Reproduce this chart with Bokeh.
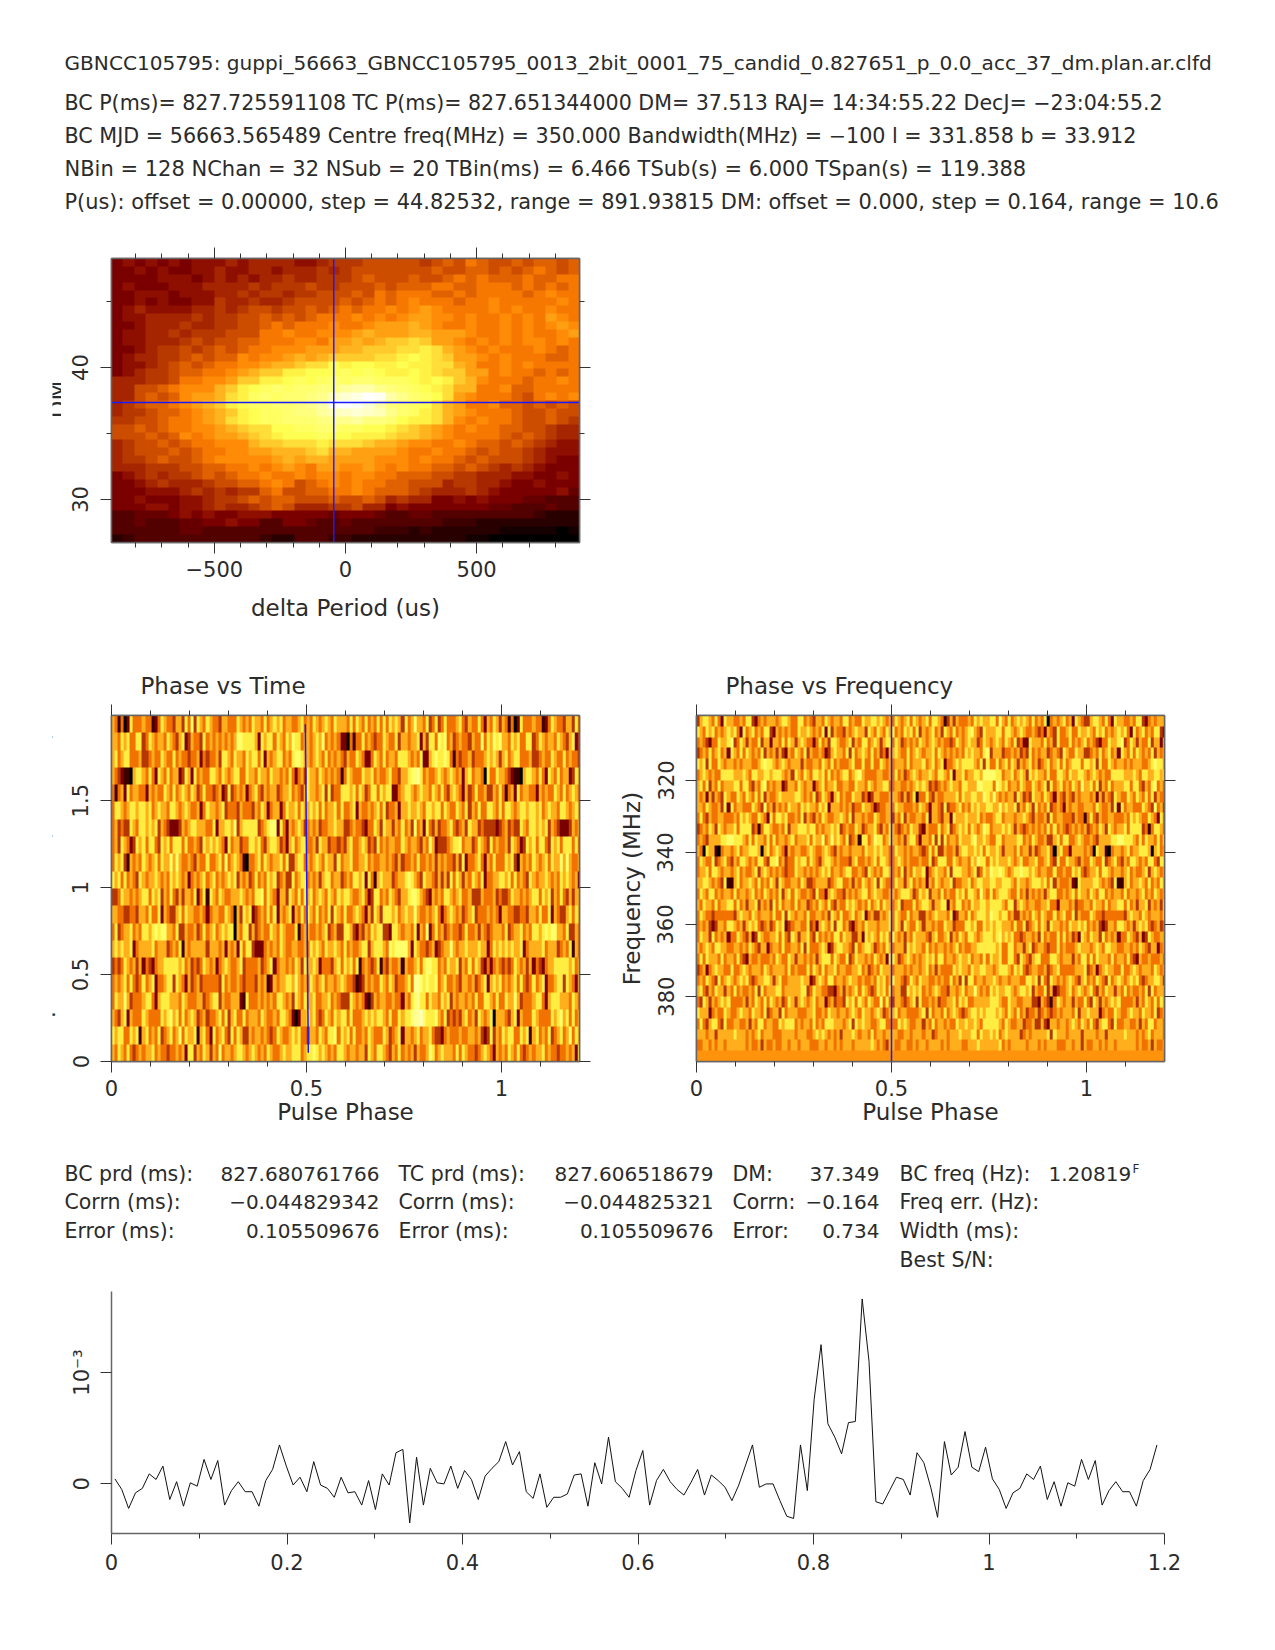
import numpy as np
from bokeh.embed import file_html
from bokeh.layouts import column, row
from bokeh.models import FixedTicker, Label, LinearAxis, LinearColorMapper, Range1d, Spacer, Title
from bokeh.plotting import figure
from bokeh.resources import INLINE

# header and stats text
HEADER_LINES = [
    "GBNCC105795: guppi_56663_GBNCC105795_0013_2bit_0001_75_candid_0.827651_p_0.0_acc_37_dm.plan.ar.clfd",
    "BC P(ms)= 827.725591108 TC P(ms)= 827.651344000 DM= 37.513 RAJ= 14:34:55.22 DecJ= \u221223:04:55.2",
    "BC MJD = 56663.565489 Centre freq(MHz) = 350.000 Bandwidth(MHz) = \u2212100 l = 331.858 b = 33.912",
    "NBin = 128 NChan = 32 NSub = 20 TBin(ms) = 6.466 TSub(s) = 6.000 TSpan(s) = 119.388",
    "P(us): offset = 0.00000, step = 44.82532, range = 891.93815 DM: offset = 0.000, step = 0.164, range = 10.6",
]
STATS_NAMES_1 = ["BC prd (ms):", "Corrn (ms):", "Error (ms):"]
STATS_VALUES_1 = ["827.680761766", "\u22120.044829342", "0.105509676"]
STATS_NAMES_2 = ["TC prd (ms):", "Corrn (ms):", "Error (ms):"]
STATS_VALUES_2 = ["827.606518679", "\u22120.044825321", "0.105509676"]
STATS_NAMES_3 = ["DM:", "Corrn:", "Error:"]
STATS_VALUES_3 = ["37.349", "\u22120.164", "0.734"]
STATS_NAMES_4 = ["BC freq (Hz):", "Freq err. (Hz):", "Width (ms):", "Best S/N:"]
BC_FREQ = "1.20819"

# pulse profile, one value per phase bin, in units of the 10^-3 tick
PROFILE = [
    0.045, -0.05, -0.22, -0.08, -0.04, 0.09, 0.04, 0.16, -0.14, 0.02, -0.20, 0.01, -0.02, 0.22, 0.04, 0.21,
    -0.19, -0.06, 0.02, -0.07, -0.07, -0.20, 0.03, 0.13, 0.35, 0.16, -0.01, 0.06, -0.07, 0.20, -0.01, -0.04,
    -0.12, 0.06, -0.08, -0.07, -0.19, 0.03, -0.23, 0.09, -0.01, 0.28, 0.31, -0.35, 0.24, -0.19, 0.14, 0.01,
    0.00, 0.16, -0.04, 0.12, 0.04, -0.14, 0.07, 0.14, 0.20, 0.38, 0.17, 0.29, -0.07, -0.13, 0.09, -0.21,
    -0.12, -0.12, -0.09, 0.08, 0.09, -0.20, 0.19, 0.00, 0.42, 0.02, -0.04, -0.12, 0.12, 0.30, -0.19, 0.03,
    0.13, 0.02, -0.05, -0.10, 0.01, 0.13, -0.10, 0.08, 0.03, -0.03, -0.15, -0.01, 0.17, 0.35, -0.03, 0.00,
    0.00, -0.15, -0.29, -0.31, 0.35, -0.06, 0.76, 1.25, 0.54, 0.42, 0.27, 0.55, 0.56, 1.66, 1.10, -0.16,
    -0.18, -0.06, 0.06, 0.04, -0.10, 0.28, 0.19, -0.03, -0.30, 0.38, 0.08, 0.15, 0.47, 0.15, 0.11, 0.33,
    0.045, -0.05, -0.22, -0.08, -0.04, 0.09, 0.04, 0.16, -0.14, 0.02, -0.20, 0.01, -0.02, 0.22, 0.04, 0.21,
    -0.19, -0.06, 0.02, -0.07, -0.07, -0.20, 0.03, 0.13, 0.35,
]
NBIN = 128

# phase vs time cells, colour level 0-9, first 128 bins, top subint first
TIME_ROWS = [
    "54140264 44544124 65443553 64736546 54435544 46545465 54645656 45544564 54654565 46555464 65464546 46465653 64575546 34634644 45643544 64254653",
    "55465644 66346545 54654356 23544364 54545454 57766665 26566465 46576645 54565745 45422041 44645434 46544635 54556253 66476745 34544354 47465767",
    "56456644 45334544 65446454 43445243 44536654 65546566 46254566 45467765 54565464 54543544 65422465 46455466 65454622 56766764 14344534 44565653",
    "54321105 66546426 54645523 65264544 66546545 66446554 65546554 54642453 65546545 45414654 44655645 44564435 56778645 44565456 54525645 54064465",
    "41452645 54425454 46546456 54653464 43452363 45452456 43545534 55645435 65545636 34466656 46534664 65662245 66545655 46546435 65425346 44533546",
    "46654566 56656456 55466545 65445246 55456344 43544435 46524552 46556465 56564645 56464456 25445456 46344525 56556546 65664654 46546354 64466546",
    "45343365 46656563 54322235 45665554 46255665 73566666 34567726 42545653 45453445 56553345 44324465 36553546 45374526 43534456 43453655 34333323",
    "45365423 65646643 65646664 64454365 65654264 55344665 64356653 42564566 44536553 44343564 45653436 45455446 54554354 75233345 66745534 65436454",
    "46563154 54654564 65575754 45435446 44564745 65410445 64654556 46335664 54565465 53645564 45564544 55454353 44546445 45354544 35362445 64254644",
    "65646454 36545565 45465654 52454564 56454565 63545346 45465634 53364566 45453566 45534546 65626415 65553455 67654365 54353536 46535465 46244556",
    "33465545 45664656 35464353 55462461 65465445 55654546 67465425 53654646 56456546 54656654 45642366 45465435 56776543 25454665 45644533 35444534",
    "55443344 35546446 25433564 65544542 45544654 05365623 45464625 45625464 65464546 36546445 65425365 36665645 65575445 45642456 54534563 44454542",
    "46345564 54665676 77554633 54453464 56456566 05466353 45446546 54446145 54454563 45336653 24354656 63326654 55462547 24645345 44346445 35434555",
    "56565562 45555645 55345461 54555553 55545254 52646632 22454546 54455445 46565465 56546454 45663566 65476777 75265443 45234557 54556555 65524656",
    "34346545 35243245 56666656 45343465 45245654 45634444 53456245 54546536 55652444 35646564 61454346 14354451 54456467 76645465 56354646 53242454",
    "45456464 34645624 45663654 25345344 44436454 45434443 54512545 56657545 46545645 54565443 12354544 65465344 56488767 66745644 54355453 45625656",
    "46557534 44566425 66655546 54445534 56635445 55216444 54545466 54536546 55644556 45433365 45421354 55445442 54678664 65546563 54554546 44665464",
    "54356254 44654444 65675646 45653453 44564635 64464555 46544546 65420255 65643465 46566464 44565656 65464465 66788976 66754634 34356453 65456055",
    "65664465 61564546 34564574 65561564 26456436 46533545 54543465 44565644 35546546 67465646 44546544 46534562 55456455 64332454 44544554 53236354",
    "54654643 45455645 44344545 26635465 35474554 56654565 45465445 65566645 66765654 54665455 45536546 65435464 54535445 76456555 46465443 45654254",
]

# phase vs frequency cells, colour level 0-9, first 128 bins, 302 MHz channel first
FREQ_ROWS = [
    "35665464 26554454 66324545 55456654 46645435 54654554 66454465 56656545 46545646 54564665 41353544 45465655 66475464 56565464 54604545 64526543",
    "65465645 45656426 45645466 32545454 46556545 46263544 35456553 65465465 64546564 63545645 36546454 56754365 55664665 45654454 34254364 45644655",
    "45432446 55673465 35446355 25546465 35654424 64536654 45635466 45653566 46534545 46545654 54434654 56553465 45654654 63422655 54645364 44645456",
    "34546456 45265464 65454635 45353254 65463544 54235655 46364565 46453425 56544645 65455646 54545454 65655467 35553445 45343645 45534543 65446553",
    "65636446 54554545 55445676 65456545 55354455 46546454 44564464 46446545 45554645 55645645 62445656 66654636 44645646 53545645 34564564 64566646",
    "45654544 66665556 54665566 56665453 65465466 56464545 66456754 44455445 46453456 54556546 65462556 45566577 77664556 45653656 55464466 54655665",
    "56463546 45556646 64354674 54552355 46545524 56455644 55446554 65455664 45544545 65653434 54565546 65557766 64765645 54654465 45636456 45465475",
    "54525354 36544654 65464635 44565555 66545463 46542564 54465534 23554445 55435346 14464354 45555646 55665576 57545455 36534365 54654254 35435455",
    "55465445 36264554 44654374 53545465 54656554 65625554 54534465 54234455 46554445 46542554 36344564 54656556 65575655 63546536 45463454 25455445",
    "46435445 54445465 65446542 64665644 54635435 46544556 54635545 44654455 35463544 55462554 35526555 65556454 45664555 45565435 44536455 44435441",
    "34546536 54556466 66341466 54454635 56665664 54556563 45446534 55643546 54345465 53254446 45634565 64654576 45556565 35434545 45464645 43454545",
    "45435555 66776665 46465546 46455456 45556465 57457565 46345166 45766456 55453566 42554636 36455465 55675565 44664555 56645465 44533564 66445654",
    "54065510 45545645 56665056 45654254 55445654 45654354 55455546 55656554 46554545 54346463 35445356 65565646 55653555 46455353 45564056 44255554",
    "46544634 56435466 54546643 66745344 65664654 35665454 44356445 45646654 45654544 45446346 66446545 54657664 65655565 45644556 44564364 46554354",
    "45564665 45545645 44563565 45454344 65545454 56564554 56644543 65454665 45463546 55624565 54636665 54563465 76676545 66766565 45544644 54465643",
    "55665454 36115645 56546454 65365445 54653345 55534566 44535465 45636544 46553564 54525465 45563445 56456655 66556665 46554566 65646354 44521655",
    "46546645 45546455 45645465 45463564 65445436 44256544 35454566 45655445 54566653 46563554 64544656 46654754 64566654 46453545 45356644 54564655",
    "54655464 55664645 35563545 36464554 64553454 65464354 46565454 64564655 45634446 45665355 66254664 54655665 66665466 35654554 45564425 55453445",
    "46544344 44443565 54654555 46446365 45546445 54536546 44564562 45335456 46544645 53354565 55462355 46456665 76656645 33545465 46544645 64463544",
    "45453235 54665453 56564345 34656234 55446342 56546366 45324546 55545556 46536544 65355454 46553444 66564465 65665554 64463456 46536554 54655656",
    "46553645 45244654 35236544 55646436 53556436 45454664 65533526 56546564 65453546 55543564 45635465 46654566 65675656 44345545 36454464 64534265",
    "54565466 55445545 46543552 45546445 54636444 56523566 55436456 65345465 45553656 55464545 54545645 44556666 66564466 45535634 55434464 54445655",
    "46465554 64554643 25445444 54654465 35545453 56664654 46346554 54654526 65345654 54565646 64554565 56455464 65564466 43654356 64446654 55535466",
    "34524565 54464456 54555465 45555464 54446465 46455645 54455645 34546555 45554545 54564535 44446565 54655665 54566654 65643455 44534564 44445556",
    "45465436 45654565 64345566 53564455 55655235 65466455 45655454 45465645 65543465 46554454 54464536 36645545 56545545 55446656 36436545 45654356",
    "56435465 53546454 45463645 55664555 55663465 54433245 35456465 43465646 45533656 56454565 44355456 45575454 65655665 45665635 44635234 45645654",
    "43653545 65644445 35465464 65453465 35654564 55245344 36564654 65447464 35543456 36445453 44556465 64455555 66654465 54455533 25431465 45535446",
    "65552454 46544565 54655463 45536455 54445564 45465545 54565465 54565345 56455444 45636455 46456543 45665656 66565465 46453445 34543454 55546355",
    "46435664 36445544 53546645 54465666 45455464 54666555 45636565 54456644 44656544 55354645 54544655 65565466 66654654 45534453 35325545 54565465",
    "55545535 55556555 45456455 54445555 45554456 56545453 55565455 46455455 55445545 55455345 55455565 55664655 65645655 55345455 55563655 54555535",
    "44554545 54555555 45445354 45445545 54555444 55455454 55545555 56545435 54455445 45545555 45455554 45556555 55564545 55554555 45455544 45545535",
    "44444444 44444444 44444444 44444444 44444444 44444444 44444444 44444444 44444444 44444444 44444444 44444444 44444444 44444444 44444444 44444444",
]
# the last channel is flat in the picture, a little lighter than level 4
FLAT_CHANNEL_LEVEL = 0.43

# DM vs delta period cells, base 32 colour level, top (high DM) row first
DM_ROWS = [
    "67676 76777 87888 87789 99AAA AA9AB ACBAA BABBA B",
    "66767 66778 77887 88898 9AAAA AAABA ABBAB ABCBA B",
    "66667 77678 78788 98899 9ABAA ABAAB CBCBB BCBBC C",
    "67666 77788 88989 99A99 AAABA BBBCC BBCCC BCBCB C",
    "66777 67778 89899 899AA ABACB CCCBB CBCCC CBCDC C",
    "66767 66779 88988 9AAAA BABCB CDCCC BCCDC CCCCD C",
    "67877 77889 89AA9 AABAB CBCCD CDEDC CCCDC DCCDC C",
    "67788 88989 9AABA BABCC CDCDC DEEDD CDCCD CDCED C",
    "66788 89889 9AABC BCCCD CCDEE EFEDC CDCCD CDCDE D",
    "67788 98999 AAACC DCCDD DEFEE EFFEE EDCCD CDCCD E",
    "67788 89A9A ABBCC CDDCE EFEFG GHGEE DCDCD CDDCD C",
    "66789 9A9AB ABCCD DDEEE FFGGG HHIHF EDCDC CCDCB C",
    "67889 9ABAB BDCDD EFEFG GGGHH IJIHG EEDCD CCCBB C",
    "67789 ABABC CDDEF FGHHJ IJJII JIIHH FECCD CDCCC C",
    "67899 ABBCC DEFGG IIJJJ KJKJI IJIHG GEECD CCBCB C",
    "88899 ACCDD EGGII JKJKL KLLKK KJIJI GFDCC CBCCD C",
    "88AAB CDDDF GIJKL KLLMM OPPNM LKJIH FFCCD BBCCC C",
    "88ABA BDEEF HIKLK LLMNQ STVUP NLKJH EDCCC BACDC D",
    "89ABB CDEFG IJKKL LMNPV VUSPM LKJHF ECCDB BABAB A",
    "899AB BCDEF GIJKK LMMOQ RSRQN LKIHF EDCCC BAABA A",
    "99AAB CCDEF HIJKK LLLMN NOMML JIIHF DCDCC BAABA 9",
    "AABAB CCDDE FGHHJ JKKLL KKJJI HGFED CDCCB BAA98 8",
    "AAABA BDCDE EFGHI JJJKJ JIIIH GGFED CCCCB ABA98 8",
    "89AAB ABCCD DDFGG HHHIH HHGFF EDDCC DCBBA BA987 7",
    "89AAA BABCC DDEEF FFGHF FEEEE DCCDC CBABA A9877 7",
    "899AB AABCD DDDDE FEFFE EEEDD DCDCC BABAA A9876 6",
    "88899 9AABB CCDCD EDCEE DDEDC DCCBB ABA98 98766 6",
    "67898 99ABA BCCDC CDCDD CDDCC BBBAA 99888 77667 6",
    "66789 8889A ABBCD CABCD CDCCB BAAA8 99887 66766 6",
    "66677 78989 899BC AABBC CDCBB BA988 89876 66667 5",
    "66766 67789 9ABAB BAAAB AABA8 98866 76766 65544 4",
    "66677 67789 889AB A8889 9A886 76666 66655 44454 4",
    "44555 67676 67776 66665 66654 45544 44444 44322 2",
    "44544 45566 76644 66544 54444 44443 33222 22222 2",
    "44444 45544 44444 44444 44433 32322 22221 11110 1",
    "23444 44444 44432 24443 32222 22222 21100 00000 0",
]

# axis limits and ticks
DP_LIM = (-892, 892)
DM_LIM = (26.74, 48.26)
TIME_LIM = (0, 1.99)
FREQ_LIM = (398, 302)
PHASE_LIM = (0, 1.2)
PROF_LIM = (-0.445, 1.727)
DM_BEST = 37.349
DP_BEST = -44.8
DRIFT_PHASE = [0.5046, 0.497]
DRIFT_TIME = [0.05, 1.94]
FREQ_MARK = [0.5, 0.5]

DP_TICKS = {-500: "\u2212500", 0: "0", 500: "500"}
DP_MINOR = [-800, -700, -600, -400, -300, -200, -100, 100, 200, 300, 400, 600, 700, 800]
DM_TICKS = {30: "30", 40: "40"}
DM_MINOR = [35, 45]
PHASE_TICKS = {0: "0", 0.5: "0.5", 1: "1"}
PHASE_MINOR = [0.1, 0.2, 0.3, 0.4, 0.6, 0.7, 0.8, 0.9, 1.1]
TIME_TICKS = {0: "0", 0.5: "0.5", 1: "1", 1.5: "1.5"}
FREQ_TICKS = {320: "320", 340: "340", 360: "360", 380: "380"}
PROF_X_TICKS = {0: "0", 0.2: "0.2", 0.4: "0.4", 0.6: "0.6", 0.8: "0.8", 1: "1", 1.2: "1.2"}
PROF_X_MINOR = [0.1, 0.3, 0.5, 0.7, 0.9, 1.1]
PROF_Y_TICKS = {0: "0", 1: "10\u207b\u00b3"}

FONT = "DejaVu Sans"
TEXT_COL = "#2b2b2b"
AXIS_COL = "#666666"
TICK_COL = "#333333"
BLUE = "#1a1aff"
TITLE_SIZE = "23px"


def heat_palette():
    # pgplot heat ramp
    lev = np.linspace(0, 1, 256)
    r = np.interp(lev, [0, .2, .4, .6, 1], [0, .5, 1, 1, 1])
    g = np.interp(lev, [0, .2, .4, .6, 1], [0, 0, .5, 1, 1])
    b = np.interp(lev, [0, .2, .4, .6, 1], [0, 0, 0, .3, 1])
    return ["#%02x%02x%02x" % (int(a * 255), int(c * 255), int(d * 255)) for a, c, d in zip(r, g, b)]


HEAT = LinearColorMapper(palette=heat_palette(), low=0, high=1)


def digit_image(rows, base, scale):
    # rows hold one character per cell
    return np.array([[int(ch, base) / scale for ch in "".join(r.split())] for r in rows], dtype=float)


def wrap_phase(img):
    # the phase plots run to 1.2 turns, so the first bins come round again
    return np.hstack([img, img[:, :26]])


def style_axis(ax, ticks, minor, labels=True, vertical=False, standoff=8):
    ax.ticker = FixedTicker(ticks=list(ticks), minor_ticks=minor)
    ax.major_label_overrides = dict(ticks) if labels else {t: "" for t in ticks}
    ax.axis_line_color = AXIS_COL
    ax.axis_line_width = 1.5
    ax.major_tick_line_color = TICK_COL
    ax.minor_tick_line_color = TICK_COL
    ax.major_tick_out = 11
    ax.major_tick_in = 0
    ax.minor_tick_out = 5
    ax.minor_tick_in = 0
    ax.major_label_standoff = standoff if labels else 0
    ax.major_label_text_font = FONT
    ax.major_label_text_color = TEXT_COL
    ax.major_label_text_font_size = "21px"
    if vertical:
        ax.major_label_orientation = "vertical"


def panel(xlim, ylim, left, top, fw, fh, bottom, right):
    p = figure(x_range=Range1d(*xlim), y_range=Range1d(*ylim), frame_width=fw, frame_height=fh,
               min_border_left=left, min_border_top=top, min_border_bottom=bottom, min_border_right=right,
               output_backend="svg", toolbar_location=None)
    p.grid.visible = False
    p.outline_line_color = AXIS_COL
    p.outline_line_width = 1.5
    return p


def box_axes(p, xticks, xminor, yticks, yminor, xoff=7, yoff=12):
    style_axis(p.below[0], xticks, xminor, standoff=xoff)
    style_axis(p.left[0], yticks, yminor, vertical=True, standoff=yoff)
    top = LinearAxis()
    right = LinearAxis()
    style_axis(top, xticks, xminor, labels=False)
    style_axis(right, yticks, yminor, labels=False)
    p.add_layout(top, "above")
    p.add_layout(right, "right")


def axis_title(ax, text, standoff):
    ax.axis_label = text
    ax.axis_label_standoff = standoff
    ax.axis_label_text_font = FONT
    ax.axis_label_text_font_style = "normal"
    ax.axis_label_text_font_size = TITLE_SIZE
    ax.axis_label_text_color = TEXT_COL


def panel_title(p, text):
    p.add_layout(Title(text=text, align="left", offset=29, standoff=12, text_font=FONT,
                       text_font_style="normal", text_font_size=TITLE_SIZE, text_color=TEXT_COL), "above")


def text_panel(x_left, x_right, y_top, y_bottom, top=0, bottom=0):
    # plain frame in page pixels; a label is cut where its frame ends
    p = figure(x_range=Range1d(x_left, x_right), y_range=Range1d(y_bottom, y_top),
               frame_width=x_right - x_left, frame_height=y_bottom - y_top,
               min_border_left=0, min_border_right=0, min_border_top=top, min_border_bottom=bottom,
               x_axis_location=None, y_axis_location=None, output_backend="svg", toolbar_location=None)
    p.grid.visible = False
    p.outline_line_color = None
    return p


def put(p, x, y, text, size="18px", align="left", angle=0.0, baseline="middle"):
    p.add_layout(Label(x=x, y=y, text=text, angle=angle, angle_units="rad", text_font=FONT, text_font_size=size,
                       text_color=TEXT_COL, text_align=align, text_baseline=baseline))


# header
head = text_panel(0, 1254, 8, 215)
HEADER_SIZES = ["20.1px", "20.6px", "20.7px", "21px", "20.9px"]
for txt, y, size in zip(HEADER_LINES, [62, 102, 135, 168, 201], HEADER_SIZES):
    put(head, 64, y, txt, size=size)

# DM vs delta period
dm_img = digit_image(DM_ROWS[::-1], 32, 31)
dm_fig = panel(DP_LIM, DM_LIM, 50, 43, 468, 284, 98, 60)
dm_fig.image(image=[dm_img], x=DP_LIM[0], y=DM_LIM[0], dw=DP_LIM[1] - DP_LIM[0], dh=DM_LIM[1] - DM_LIM[0],
             color_mapper=HEAT)
dm_fig.line([DP_BEST, DP_BEST], list(DM_LIM), line_color=BLUE, line_width=1.5)
dm_fig.line(list(DP_LIM), [DM_BEST, DM_BEST], line_color=BLUE, line_width=1.5)
box_axes(dm_fig, DP_TICKS, DP_MINOR, DM_TICKS, DM_MINOR)
axis_title(dm_fig.below[0], "delta Period (us)", 15)
# the reference cuts this label at its left edge
dm_strip = text_panel(52, 61, 258, 542, top=43, bottom=98)
put(dm_strip, 57.5, 399, "DM", size=TITLE_SIZE, align="center", angle=np.pi / 2, baseline="alphabetic")

# phase vs time
time_img = wrap_phase(digit_image(TIME_ROWS[::-1], 10, 10.5))
time_fig = panel(PHASE_LIM, TIME_LIM, 50, 75, 468, 346, 69, 27)
time_fig.image(image=[time_img], x=0, y=0, dw=time_img.shape[1] / NBIN, dh=TIME_LIM[1], color_mapper=HEAT)
time_fig.line(DRIFT_PHASE, DRIFT_TIME, line_color=BLUE, line_width=1.5)
box_axes(time_fig, PHASE_TICKS, PHASE_MINOR, TIME_TICKS, [])
axis_title(time_fig.below[0], "Pulse Phase", 0)
panel_title(time_fig, "Phase vs Time")
time_strip = text_panel(52, 61, 715, 1061, top=75, bottom=69)
put(time_strip, 41, 888, "Experiment Time (minutes)", size=TITLE_SIZE, align="center", angle=np.pi / 2,
    baseline="alphabetic")

# phase vs frequency
freq_img = wrap_phase(digit_image(FREQ_ROWS, 10, 10.5))
freq_img[-1, :] = FLAT_CHANNEL_LEVEL
freq_fig = panel(PHASE_LIM, FREQ_LIM, 90, 75, 468, 346, 69, 40)
freq_fig.image(image=[freq_img], x=0, y=FREQ_LIM[1], dw=freq_img.shape[1] / NBIN, dh=FREQ_LIM[0] - FREQ_LIM[1],
               color_mapper=HEAT)
freq_fig.line(FREQ_MARK, list(FREQ_LIM), line_color=BLUE, line_width=1.5)
box_axes(freq_fig, PHASE_TICKS, PHASE_MINOR, FREQ_TICKS, [])
axis_title(freq_fig.below[0], "Pulse Phase", 0)
axis_title(freq_fig.left[0], "Frequency (MHz)", 10)
panel_title(freq_fig, "Phase vs Frequency")

# stats block
stats = text_panel(0, 1254, 1130, 1285)
ROW_Y = [1173, 1201, 1230, 1259]
NAME_SIZE = "20.5px"
VALUE_SIZE = "20px"
for txt, y in zip(STATS_NAMES_1, ROW_Y):
    put(stats, 64, y, txt, size=NAME_SIZE)
for txt, y in zip(STATS_VALUES_1, ROW_Y):
    put(stats, 379, y, txt, size=VALUE_SIZE, align="right")
for txt, y in zip(STATS_NAMES_2, ROW_Y):
    put(stats, 398, y, txt, size=NAME_SIZE)
for txt, y in zip(STATS_VALUES_2, ROW_Y):
    put(stats, 713, y, txt, size=VALUE_SIZE, align="right")
for txt, y in zip(STATS_NAMES_3, ROW_Y):
    put(stats, 732, y, txt, size=NAME_SIZE)
for txt, y in zip(STATS_VALUES_3, ROW_Y):
    put(stats, 879, y, txt, size=VALUE_SIZE, align="right")
for txt, y in zip(STATS_NAMES_4, ROW_Y):
    put(stats, 899, y, txt, size=NAME_SIZE)
put(stats, 1048, ROW_Y[0], BC_FREQ, size=VALUE_SIZE)
put(stats, 1132, ROW_Y[0] - 5, "F", size="12px")

# profile
phase = (np.arange(len(PROFILE)) + 0.5) / NBIN
prof_fig = panel(PHASE_LIM, PROF_LIM, 111, 6, 1053, 242, 87, 90)
prof_fig.outline_line_color = None
prof_fig.line(phase, PROFILE, line_color="#111111", line_width=1)
style_axis(prof_fig.below[0], PROF_X_TICKS, PROF_X_MINOR, standoff=9)
style_axis(prof_fig.left[0], PROF_Y_TICKS, [], vertical=True, standoff=6)

page = column(
    Spacer(height=8),
    row(head),
    row(Spacer(width=52), dm_strip, dm_fig),
    row(Spacer(width=52), time_strip, time_fig, freq_fig),
    row(stats),
    row(prof_fig),
)
open("out.html", "w").write(file_html(page, INLINE))
